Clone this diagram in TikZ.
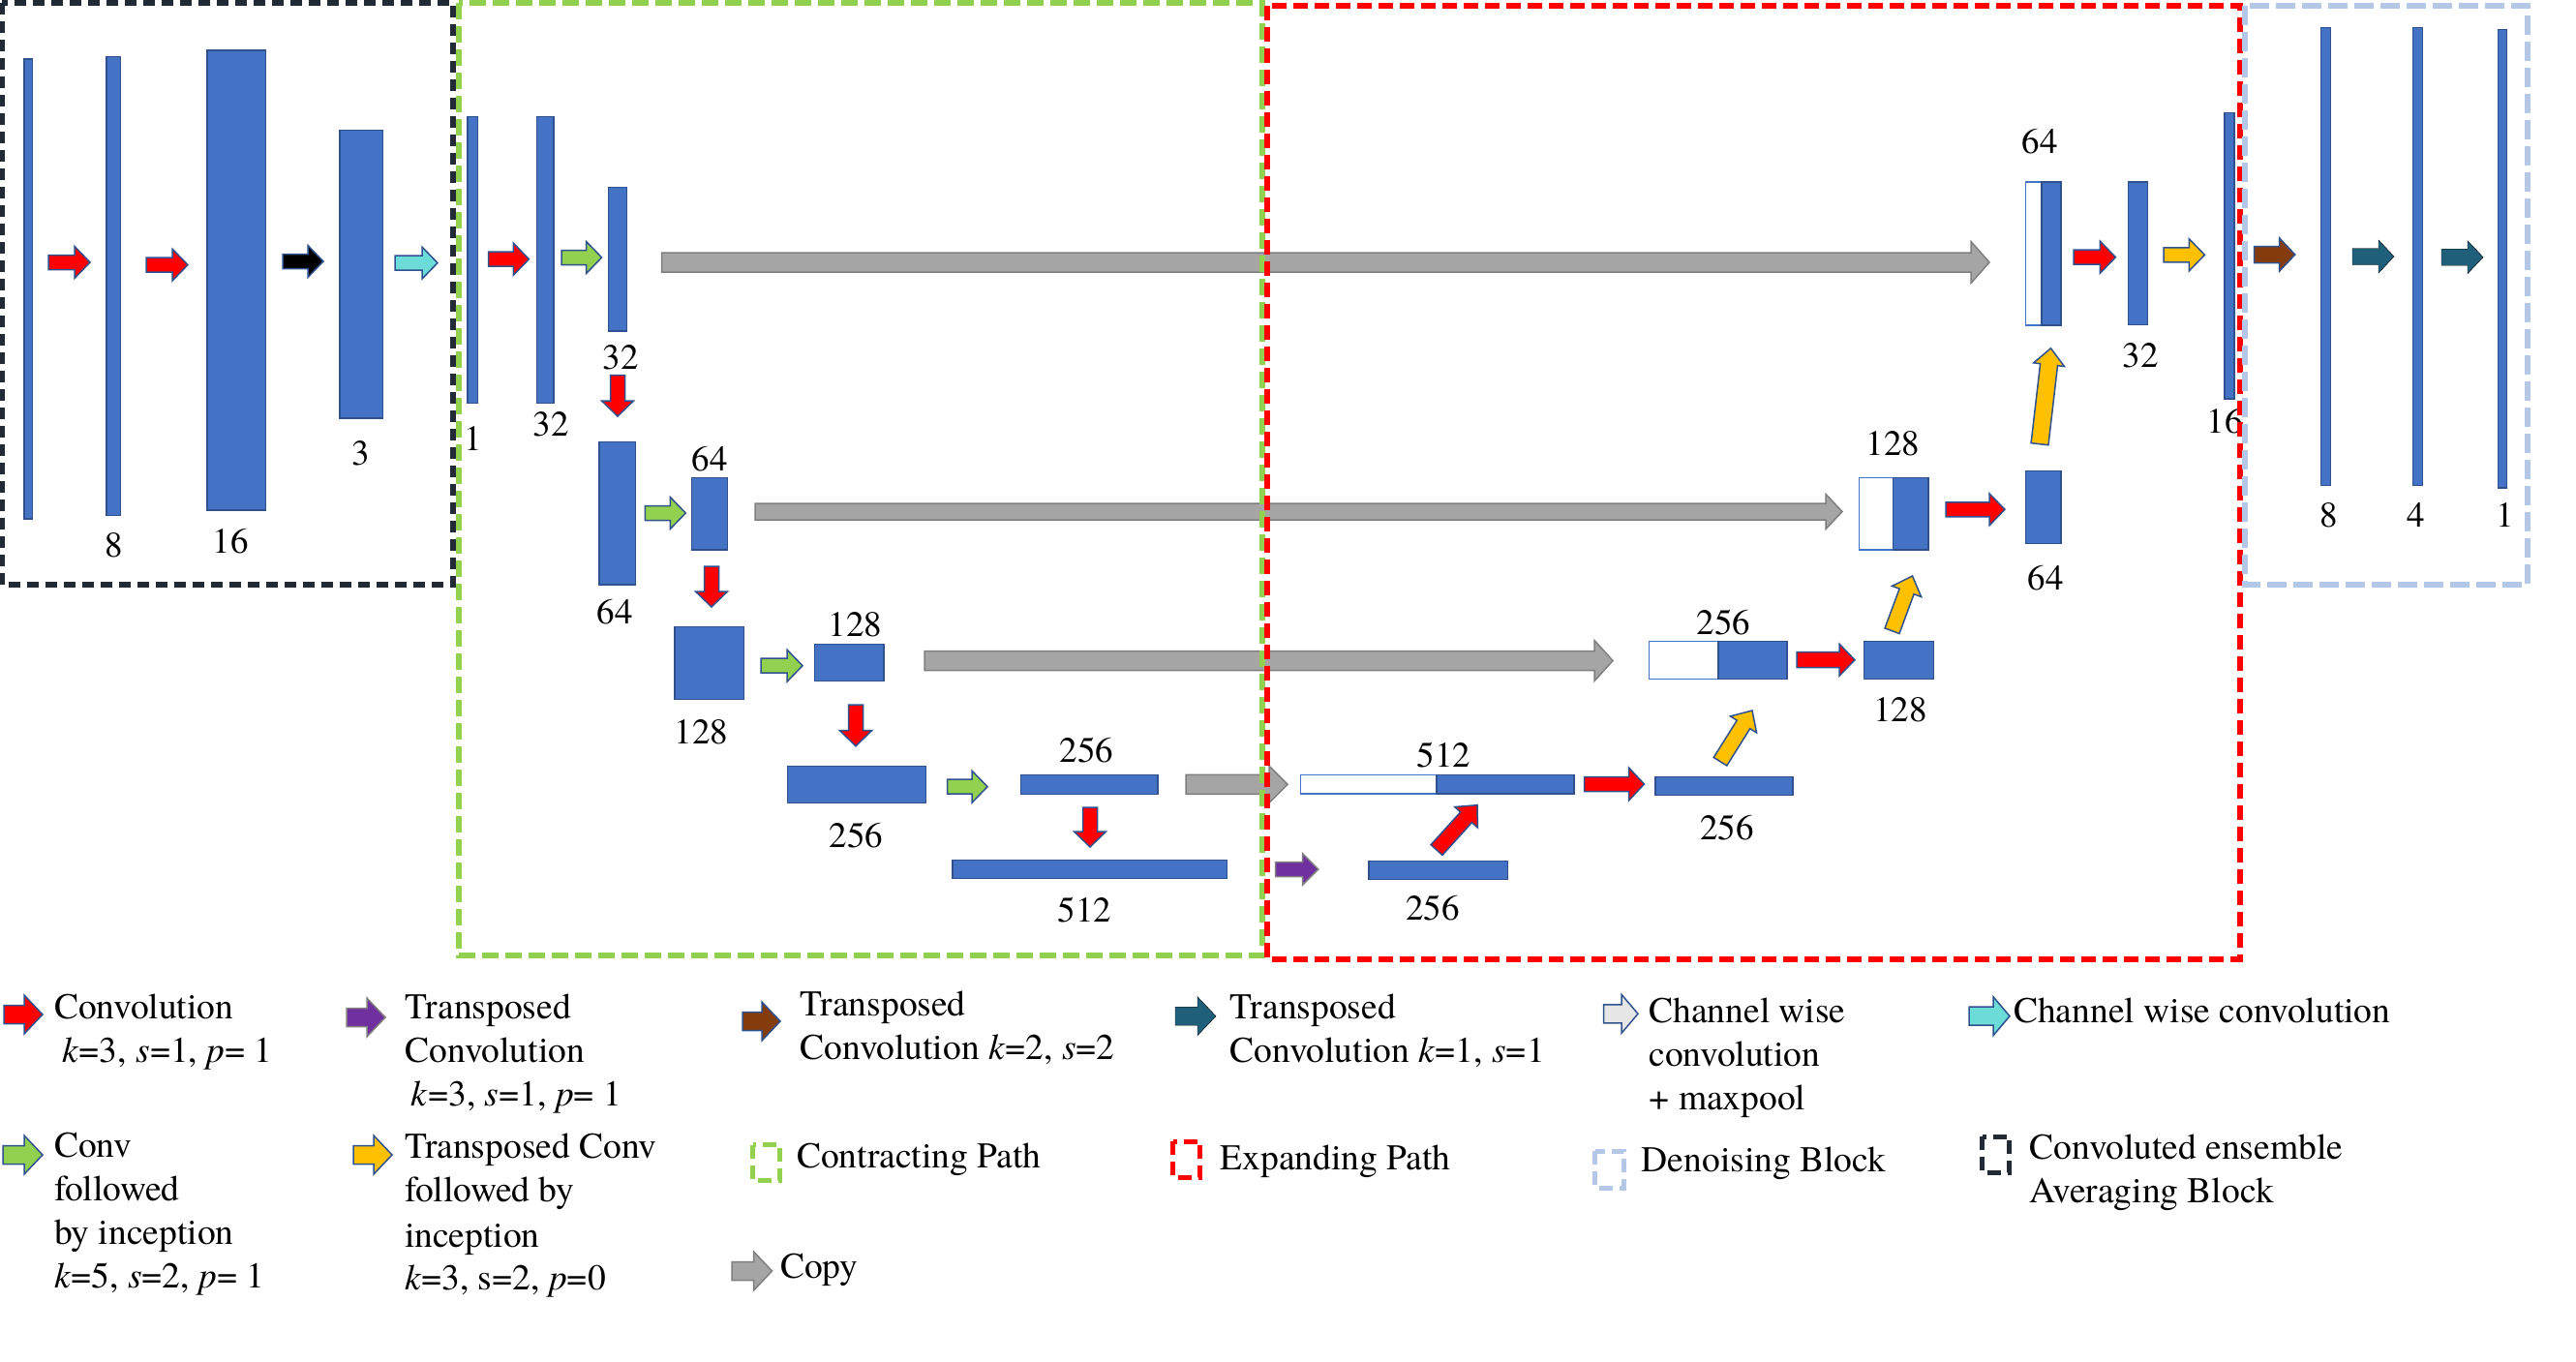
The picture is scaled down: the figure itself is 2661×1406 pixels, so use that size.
\documentclass[tikz,border=0pt]{standalone}
\usepackage{fontspec}
\newfontfamily\tnr{texgyretermes}[Extension=.otf, UprightFont=*-regular, ItalicFont=*-italic, BoldFont=*-bold, BoldItalicFont=*-bolditalic]
\usetikzlibrary{calc,fit}
\definecolor{blkfill}{HTML}{4472C4}
\definecolor{blkdraw}{HTML}{2F528F}
\definecolor{arrline}{HTML}{2F528F}
\definecolor{arred}{HTML}{FF0000}
\definecolor{argreen}{HTML}{92D050}
\definecolor{aryellow}{HTML}{FFC000}
\definecolor{arpurple}{HTML}{7030A0}
\definecolor{arbrown}{HTML}{843C0C}
\definecolor{arteal}{HTML}{1F5F7A}
\definecolor{arcyan}{HTML}{6CDCD8}
\definecolor{arlight}{HTML}{E7E6E6}
\definecolor{copyfill}{HTML}{A5A5A5}
\definecolor{copyline}{HTML}{7F7F7F}
\definecolor{boxblack}{HTML}{222A35}
\definecolor{boxgreen}{HTML}{92D050}
\definecolor{boxred}{HTML}{FF0000}
\definecolor{boxblue}{HTML}{B4C7E7}
% block arrow: style, start, end, half shaft, half head, head length
\newcommand{\barrow}[6]{%
  \coordinate (ba) at #2;
  \coordinate (bb) at #3;
  \coordinate (bh) at ($(bb)!#6pt!(ba)$);
  \draw[#1] ($(ba)!#4pt!90:(bb)$) -- ($(bh)!#4pt!90:(bb)$) -- ($(bh)!#5pt!90:(bb)$) -- (bb)
    -- ($(bh)!#5pt!-90:(bb)$) -- ($(bh)!#4pt!-90:(bb)$) -- ($(ba)!#4pt!-90:(bb)$) -- cycle;
}
\tikzset{
  blk/.style={draw=blkdraw, fill=blkfill, line width=1.5pt, inner sep=0pt, outer sep=0pt},
  wblk/.style={draw=blkfill, fill=white, line width=1.5pt, inner sep=0pt, outer sep=0pt},
  arr/.style={draw=arrline, line width=1.5pt, line join=miter},
  copyarr/.style={draw=copyline, fill=copyfill, line width=1.5pt, line join=miter},
  lbl/.style={inner sep=0pt, font=\fontsize{37}{44}\tnr},
  txt/.style={inner sep=0pt, anchor=base west, font=\fontsize{37.5}{45}\tnr},
  dbox/.style={line width=5.5pt},
}
\begin{document}
\begin{tikzpicture}[x=1pt,y=-1pt]
\fill[white] (0,0) rectangle (2661,1406);
\useasboundingbox (0,0) rectangle (2661,1406);

% copy arrows
\barrow{copyarr}{(683.6,271)}{(2055,271)}{10}{21.5}{19}
\barrow{copyarr}{(780,528.5)}{(1903,528.5)}{8.5}{18}{17}
\barrow{copyarr}{(955,682.5)}{(1666,682.5)}{10}{21}{19}
\barrow{copyarr}{(1225,810.3)}{(1330,810.3)}{10}{19}{19}

% ensemble averaging block
\node[blk, fit={(25,61)(33.5,536)}] (a1) {};
\node[blk, fit={(110,58.5)(124.5,532.6)}] (a2) {};
\node[blk, fit={(214,52)(274.5,527)}] (a3) {};
\node[blk, fit={(351,134.4)(395.5,432)}] (a4) {};
% contracting path
\node[blk, fit={(483,120.6)(493.6,416.4)}] (b1) {};
\node[blk, fit={(554.5,120.6)(572,416.4)}] (b2) {};
\node[blk, fit={(628.5,193.7)(647.5,342)}] (b3) {};
\node[blk, fit={(619,456.7)(656.6,603.8)}] (b4) {};
\node[blk, fit={(714.6,493.5)(751.4,568.2)}] (b5) {};
\node[blk, fit={(697,647.7)(768.6,722.7)}] (b6) {};
\node[blk, fit={(841.5,665.7)(913,703.3)}] (b7) {};
\node[blk, fit={(813.6,791.3)(956.5,829.3)}] (b8) {};
\node[blk, fit={(1054.5,800.3)(1196,820.3)}] (b9) {};
\node[blk, fit={(984,888.3)(1267.5,907.7)}] (b10) {};
% expanding path
\node[blk, fit={(1414,889.3)(1557.5,908.3)}] (c1) {};
\node[wblk, fit={(1343.5,800.3)(1483.8,820)}] (c2w) {};
\node[blk, fit={(1483.8,800.3)(1626,820)}] (c2) {};
\node[blk, fit={(1710,802.3)(1852,821.3)}] (c3) {};
\node[wblk, fit={(1703.4,662.3)(1775,701.3)}] (c4w) {};
\node[blk, fit={(1775,662.3)(1845.8,701.3)}] (c4) {};
\node[blk, fit={(1925.7,662.3)(1997.3,701.3)}] (c5) {};
\node[wblk, fit={(1920.6,493.5)(1955.3,568.2)}] (c6w) {};
\node[blk, fit={(1955.3,493.5)(1991.8,568.2)}] (c6) {};
\node[blk, fit={(2092.5,486.3)(2129,561.5)}] (c7) {};
\node[wblk, fit={(2092.5,187.8)(2109,336)}] (c8w) {};
\node[blk, fit={(2109,187.8)(2129,336)}] (c8) {};
\node[blk, fit={(2198.4,187.8)(2218.3,335.3)}] (c9) {};
\node[blk, fit={(2298,116.6)(2307.8,412)}] (c10) {};
% denoising block
\node[blk, fit={(2397.4,28.5)(2407.6,501.4)}] (d1) {};
\node[blk, fit={(2492.6,28.5)(2502.3,501.4)}] (d2) {};
\node[blk, fit={(2580.4,30.4)(2589.6,504)}] (d3) {};

% arrows in diagram
\barrow{arr,fill=arred}{(50,271)}{(93,271)}{7.5}{16.5}{16}
\barrow{arr,fill=arred}{(151,273.6)}{(194,273.6)}{7.5}{16.5}{16}
\barrow{arr,fill=black}{(292,270)}{(334,270)}{7.5}{16.5}{16}
\barrow{arr,fill=arcyan}{(408,271.6)}{(452,271.6)}{7.5}{16.5}{16}
\barrow{arr,fill=arred}{(504.5,267.7)}{(546.4,267.7)}{7.5}{16.5}{16}
\barrow{arr,fill=argreen}{(580,266)}{(621.6,266)}{7.5}{16.5}{16}
\barrow{arr,fill=arred}{(638,387.5)}{(638,430)}{7.5}{16.5}{16}
\barrow{arr,fill=argreen}{(666.4,530)}{(708.3,530)}{7.5}{16.5}{16}
\barrow{arr,fill=arred}{(735,585)}{(735,627)}{7.5}{16.5}{16}
\barrow{arr,fill=argreen}{(786,687.7)}{(829,687.7)}{7.5}{16.5}{16}
\barrow{arr,fill=arred}{(884,728)}{(884,770.7)}{7.5}{16.5}{16}
\barrow{arr,fill=argreen}{(978.6,812.7)}{(1020,812.7)}{7.5}{16.5}{16}
\barrow{arr,fill=arred}{(1126,834)}{(1126,875)}{7.5}{16.5}{16}
\barrow{draw=copyline,line width=1.5pt,fill=arpurple}{(1317.5,898)}{(1361.7,898)}{7.5}{16}{16}
\barrow{arr,fill=arred}{(1484,878)}{(1526,831.7)}{8}{16}{17}
\barrow{arr,fill=arred}{(1636.7,810)}{(1698.5,810)}{7.5}{17}{16}
\barrow{arr,fill=aryellow}{(1777,786.7)}{(1810,734)}{8}{16}{17}
\barrow{arr,fill=arred}{(1856,681.7)}{(1916,681.7)}{8}{16.5}{16}
\barrow{arr,fill=aryellow}{(1954.5,651.7)}{(1975.5,595)}{8}{16}{17}
\barrow{arr,fill=arred}{(2010,526.3)}{(2071,526.3)}{7.5}{16.5}{16}
\barrow{arr,fill=aryellow}{(2107,458.7)}{(2118.5,359.8)}{9}{16}{17}
\barrow{arr,fill=arred}{(2142,265.7)}{(2185.4,265.7)}{7.5}{16.5}{16}
\barrow{arr,fill=aryellow}{(2235,263.3)}{(2277.4,263.3)}{7.5}{16.5}{16}
\barrow{arr,fill=arbrown}{(2328.5,263)}{(2370.7,263)}{8.5}{17}{16}
\barrow{fill=arteal}{(2430,265)}{(2473,265)}{8.5}{17}{16}
\barrow{fill=arteal}{(2522,265.7)}{(2565,265.7)}{8.5}{17}{16}

% labels
\node[lbl] (la2) at (117.4,563) {8};
\node[lbl] (la3) at (238,559.5) {16};
\node[lbl] (la4) at (373,468.5) {3};
\node[lbl] (lb1) at (489,452.7) {1};
\node[lbl] (lb2) at (569,438) {32};
\node[lbl] (lb3) at (641,369.7) {32};
\node[lbl] (lb5) at (733,474.5) {64};
\node[lbl] (lb4) at (635,632) {64};
\node[lbl] (lb6) at (724.4,756.7) {128};
\node[lbl] (lb7) at (883.5,645) {128};
\node[lbl] (lb8) at (884.5,863.3) {256};
\node[lbl] (lb9) at (1122.7,775) {256};
\node[lbl] (lb10) at (1120.5,940) {512};
\node[lbl] (lc1) at (1480,938.3) {256};
\node[lbl] (lc2) at (1491.5,780) {512};
\node[lbl] (lc3) at (1784,855) {256};
\node[lbl] (lc4) at (1780.5,643.3) {256};
\node[lbl] (lc5) at (1963,733) {128};
\node[lbl] (lc6) at (1955.3,458.7) {128};
\node[lbl] (lc7) at (2113,597) {64};
\node[lbl] (lc8) at (2107,146.3) {64};
\node[lbl] (lc9) at (2211.4,367.7) {32};
\node[lbl] (lc10) at (2298,435) {16};
\node[lbl] (ld1) at (2405.7,531.8) {8};
\node[lbl] (ld2) at (2496,531.8) {4};
\node[lbl] (ld3) at (2588,531.8) {1};

% dashed region boxes
\draw[dbox, draw=boxblack, dash pattern=on 12pt off 7pt] (2,3) rectangle (468,604);
\draw[dbox, draw=boxgreen, dash pattern=on 17pt off 7pt] (474,3) rectangle (1304,987);
\draw[dbox, draw=boxred, dash pattern=on 15pt off 7pt] (1309,6) rectangle (2314,991);
\draw[dbox, draw=boxblue, dash pattern=on 20pt off 7pt] (2319,6) rectangle (2611,604);

% legend arrows
\barrow{arr,fill=arred}{(4,1048)}{(44,1048)}{9.5}{20}{19}
\barrow{draw=copyline,line width=1.5pt,fill=arpurple}{(358,1051)}{(398,1051)}{9.5}{20}{19}
\barrow{arr,fill=arbrown}{(767,1055)}{(806,1055)}{9.5}{20}{19}
\barrow{fill=arteal}{(1214,1049.7)}{(1256,1049.7)}{9.5}{20}{19}
\barrow{arr,fill=arlight}{(1656.6,1047.3)}{(1692,1047.3)}{9.5}{20}{17}
\barrow{arr,fill=arcyan}{(2034,1049.7)}{(2076,1049.7)}{9.5}{20}{17}
\barrow{arr,fill=argreen}{(3,1193)}{(44,1193)}{9.5}{20}{19}
\barrow{arr,fill=aryellow}{(365,1193)}{(405,1193)}{9.5}{20}{19}
\barrow{copyarr}{(756,1313)}{(797.5,1313)}{9.5}{20}{19}

% legend dashed icons
\draw[line width=5pt, draw=boxgreen, dash pattern=on 14pt off 7pt] (777.5,1182.5) rectangle (805.5,1219);
\draw[line width=5pt, draw=boxred, dash pattern=on 14pt off 7pt] (1211.5,1179) rectangle (1239.5,1216);
\draw[line width=5pt, draw=boxblue, dash pattern=on 14pt off 7pt] (1647.5,1189) rectangle (1677.5,1227);
\draw[line width=5pt, draw=boxblack, dash pattern=on 14pt off 7pt] (2047.5,1174) rectangle (2075.5,1211);

% legend texts
\node[txt] (t1a) at (56,1052.3) {Convolution};
\node[txt] (t1b) at (64.3,1097.3) {\textit{k}=3, \textit{s}=1, \textit{p}= 1};
\node[txt] (t2a) at (418.7,1052.3) {Transposed};
\node[txt] (t2b) at (418.7,1097.3) {Convolution};
\node[txt] (t2c) at (424.7,1142.7) {\textit{k}=3, \textit{s}=1, \textit{p}= 1};
\node[txt] (t3a) at (826.5,1049) {Transposed};
\node[txt] (t3b) at (826.5,1094.5) {Convolution \textit{k}=2, \textit{s}=2};
\node[txt] (t4a) at (1270.7,1052.3) {Transposed};
\node[txt] (t4b) at (1270.7,1097.3) {Convolution \textit{k}=1, \textit{s}=1};
\node[txt] (t5a) at (1703.3,1056) {Channel wise};
\node[txt] (t5b) at (1703.3,1101.7) {convolution};
\node[txt] (t5c) at (1703.3,1146.7) {+ maxpool};
\node[txt] (t6a) at (2080,1056) {Channel wise convolution};
\node[txt] (t7a) at (56,1195) {Conv};
\node[txt] (t7b) at (56,1240) {followed};
\node[txt] (t7c) at (56,1285) {by inception};
\node[txt] (t7d) at (56,1330) {\textit{k}=5, \textit{s}=2, \textit{p}= 1};
\node[txt] (t8a) at (417.8,1196.7) {Transposed Conv};
\node[txt] (t8b) at (417.8,1241.7) {followed by};
\node[txt] (t8c) at (417.8,1288.3) {inception};
\node[txt] (t8d) at (417.8,1332.7) {\textit{k}=3, s=2, \textit{p}=0};
\node[txt] (t9a) at (823,1206) {Contracting Path};
\node[txt] (t9b) at (806,1320) {Copy};
\node[txt] (t10a) at (1260.6,1208.3) {Expanding Path};
\node[txt] (t11a) at (1695.7,1210.7) {Denoising Block};
\node[txt] (t12a) at (2096.4,1197.3) {Convoluted ensemble};
\node[txt] (t12b) at (2096.4,1242.3) {Averaging Block};
\end{tikzpicture}
\end{document}
